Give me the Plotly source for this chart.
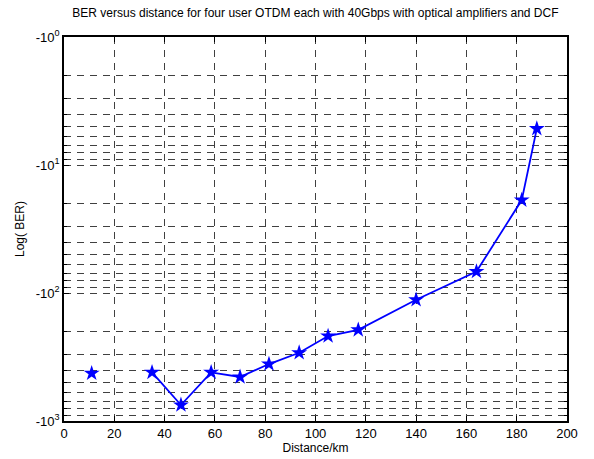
import plotly.graph_objects as go

distance_km = [11, 35, 46.5, 58.5, 70, 81.5, 93.5, 105, 117, 140, 164, 182, 188]
neg_log_ber_mag = [424, 417, 750, 417, 453, 359, 293, 217, 194, 113, 68, 18.8, 5.2]

y_tick_vals = [1, 10, 100, 1000]
y_tick_text = ["-10<sup>0</sup>", "-10<sup>1</sup>", "-10<sup>2</sup>", "-10<sup>3</sup>"]
x_tick_vals = list(range(0, 201, 20))

blue = "#0000FF"
grid_col = "#404040"
dash = "7px,6px"

fig = go.Figure()
# first point shown as marker only (not connected)
fig.add_trace(go.Scatter(x=distance_km[:1], y=neg_log_ber_mag[:1], mode="markers",
                         marker=dict(symbol="star", size=12, color=blue, line=dict(width=0)),
                         showlegend=False))
fig.add_trace(go.Scatter(x=distance_km[1:], y=neg_log_ber_mag[1:], mode="lines+markers",
                         line=dict(color=blue, width=1.8),
                         marker=dict(symbol="star", size=12, color=blue, line=dict(width=0)),
                         showlegend=False))

font = dict(family="Liberation Sans, Arial, sans-serif", size=12, color="black")

fig.update_layout(
    width=594, height=459,
    margin=dict(l=64, r=27, t=37, b=38, autoexpand=False),
    paper_bgcolor="white", plot_bgcolor="white",
    font=font,
    title=dict(text="BER versus distance for four user OTDM each with 40Gbps with optical amplifiers and DCF",
               x=0.531, xanchor="center", y=0.982, yanchor="top", font=dict(size=12)),
)
fig.update_xaxes(
    range=[0, 200], tickvals=x_tick_vals, ticks="inside", ticklen=5, tickcolor="black",
    showline=True, linecolor="black", linewidth=1.5, mirror="allticks",
    showgrid=True, gridcolor=grid_col, griddash=dash, gridwidth=1,
    zeroline=False, tickfont=dict(size=13), automargin=False,
    title=dict(text="Distance/km", standoff=3, font=dict(size=12)),
)
fig.update_yaxes(
    type="log", range=[3, 0], tickvals=y_tick_vals, ticktext=y_tick_text,
    ticks="inside", ticklen=5, tickcolor="black",
    showline=True, linecolor="black", linewidth=1.5, mirror="allticks",
    showgrid=True, gridcolor=grid_col, griddash=dash, gridwidth=1,
    zeroline=False, tickfont=dict(size=13), automargin=False,
    minor=dict(dtick="D1", ticks="inside", ticklen=3, tickcolor="black",
               showgrid=True, gridcolor=grid_col, griddash=dash, gridwidth=1),
    title=dict(text="Log(\u00a0BER)", standoff=9, font=dict(size=12)),
)

fig.write_html("out.html")
